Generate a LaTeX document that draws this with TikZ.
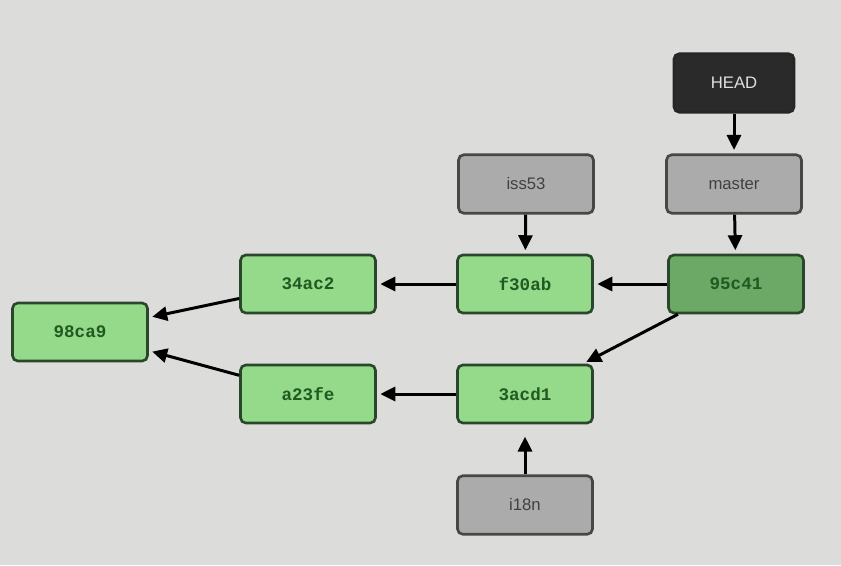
\documentclass[tikz,border=0pt]{standalone}
\usepackage{fontspec}
\setmainfont{Liberation Sans}
\setmonofont{Liberation Mono}
\usetikzlibrary{arrows.meta}
\definecolor{canvas}{HTML}{DCDCDA}
\definecolor{leaf}{HTML}{94DA8A}
\definecolor{moss}{HTML}{6CA866}
\definecolor{pine}{HTML}{2B472B}
\definecolor{ink}{HTML}{215A21}
\definecolor{slate}{HTML}{ABABAB}
\definecolor{graphite}{HTML}{474747}
\definecolor{coal}{HTML}{2A2A2A}

\tikzset{
  commitbox/.style={draw=pine, fill=leaf, line width=1.5pt, rounded corners=3pt,
    minimum width=2.7cm, minimum height=1.16cm, text=ink,
    font=\ttfamily\bfseries\fontsize{10}{12}\selectfont},
  refbox/.style={draw=graphite, fill=slate, line width=1.5pt, rounded corners=3pt,
    minimum width=2.7cm, minimum height=1.17cm, text=black!75,
    font=\fontsize{9.5}{11}\selectfont},
  headbox/.style={refbox, draw=black!85, fill=coal, text=white!88!black, minimum width=2.4cm},
  link/.style={-{Triangle[length=8.5pt,width=8pt]}, line width=1.7pt, shorten >=2pt}
}

\begin{document}
\begin{tikzpicture}[x=0.02cm,y=-0.02cm]
\fill[canvas] (0,0) rectangle (841,565);
\useasboundingbox (0,0) rectangle (841,565);

% commits
\node[commitbox] (c98ca9) at (80,332) {98ca9};
\node[commitbox] (c34ac2) at (308,284) {34ac2};
\node[commitbox] (ca23fe) at (308,394) {a23fe};
\node[commitbox] (cf30ab) at (525,284) {f30ab};
\node[commitbox, fill=moss] (c95c41) at (736,284) {95c41};
\node[commitbox] (c3acd1) at (525,394) {3acd1};

% branches
\node[refbox] (iss53) at (526,184) {iss53};
\node[refbox] (master) at (734,184) {master};
\node[headbox] (head) at (734,83) {HEAD};
\node[refbox] (i18n) at (525,505) {i18n};

% parents
\draw[link] (c34ac2) -- (c98ca9);
\draw[link] (ca23fe) -- (c98ca9);
\draw[link] (cf30ab) -- (c34ac2);
\draw[link] (c3acd1) -- (ca23fe);
\draw[link] (c95c41) -- (cf30ab);
\draw[link] (c95c41) -- (c3acd1);

% pointers
\draw[link] (head) -- (master);
\draw[link] (master) -- (c95c41);
\draw[link] (iss53) -- (cf30ab);
\draw[link, shorten >=7pt] (i18n) -- (c3acd1);
\end{tikzpicture}
\end{document}
